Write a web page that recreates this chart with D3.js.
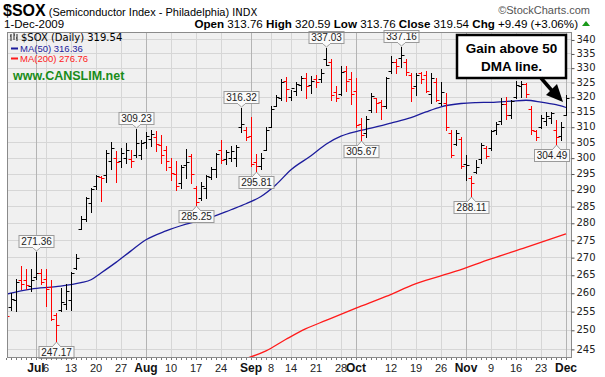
<!DOCTYPE html>
<html>
<head>
<meta charset="utf-8">
<script src="https://cdn.jsdelivr.net/npm/d3@7"></script>
<style>
  body { margin: 0; background: #fff; }
  text { font-family: Arial, "Liberation Sans", sans-serif; }
</style>
</head>
<body>
<div class="container"></div>
<script>
// trading days shown on the chart
const dates = [
  "Jun 23","Jun 24","Jun 25","Jun 26","Jun 29","Jun 30",
  "Jul 1","Jul 2","Jul 6","Jul 7","Jul 8","Jul 9","Jul 10","Jul 13","Jul 14","Jul 15","Jul 16","Jul 17","Jul 20","Jul 21","Jul 22","Jul 23","Jul 24","Jul 27","Jul 28","Jul 29","Jul 30","Jul 31",
  "Aug 3","Aug 4","Aug 5","Aug 6","Aug 7","Aug 10","Aug 11","Aug 12","Aug 13","Aug 14","Aug 17","Aug 18","Aug 19","Aug 20","Aug 21","Aug 24","Aug 25","Aug 26","Aug 27","Aug 28","Aug 31",
  "Sep 1","Sep 2","Sep 3","Sep 4","Sep 8","Sep 9","Sep 10","Sep 11","Sep 14","Sep 15","Sep 16","Sep 17","Sep 18","Sep 21","Sep 22","Sep 23","Sep 24","Sep 25","Sep 28","Sep 29","Sep 30",
  "Oct 1","Oct 2","Oct 5","Oct 6","Oct 7","Oct 8","Oct 9","Oct 12","Oct 13","Oct 14","Oct 15","Oct 16","Oct 19","Oct 20","Oct 21","Oct 22","Oct 23","Oct 26","Oct 27","Oct 28","Oct 29","Oct 30",
  "Nov 2","Nov 3","Nov 4","Nov 5","Nov 6","Nov 9","Nov 10","Nov 11","Nov 12","Nov 13","Nov 16","Nov 17","Nov 18","Nov 19","Nov 20","Nov 23","Nov 24","Nov 25","Nov 27","Nov 30",
  "Dec 1"
]

const opens = [
  256.0, 256.0, 258.0, 263.5, 263.5, 262.0,
  264.5, 265.5, 263.8, 261.5, 254.0, 255.2, 257.0, 258.0, 267.0, 278.3, 281.0, 286.0, 291.0, 294.0, 294.5, 299.0, 300.0, 299.0, 300.0, 299.5, 301.0, 301.0,
  305.0, 306.0, 306.5, 304.0, 302.5, 297.0, 295.0, 292.0, 297.8, 300.5, 290.5, 287.5, 290.5, 294.0, 296.5, 302.5, 299.5, 300.0, 300.0, 310.0, 309.0,
  307.0, 298.5, 297.5, 302.5, 310.0, 317.0, 319.5, 325.5, 320.0, 322.0, 324.0, 326.5, 324.0, 326.0, 326.0, 333.2, 332.0, 321.5, 321.0, 329.0, 326.0,
  322.0, 311.0, 308.0, 315.5, 319.5, 318.3, 317.0, 328.8, 332.0, 333.5, 332.0, 327.5, 323.5, 328.0, 327.5, 321.0, 325.0, 318.0, 318.0, 308.0, 304.5, 306.0,
  298.0, 293.5, 295.6, 299.5, 303.0, 303.0, 309.0, 312.0, 317.5, 314.0, 320.0, 323.5, 324.5, 316.0, 308.5, 310.0, 312.0, 313.0, 309.0, 307.0,
  313.76
]
const highs = [
  257.0, 260.0, 263.8, 267.5, 266.7, 266.7,
  271.36, 266.7, 266.7, 263.5, 254.5, 261.2, 262.5, 265.7, 270.9, 282.1, 287.9, 290.5, 294.6, 294.3, 302.5, 305.0, 302.0, 303.2, 304.6, 302.3, 309.23, 305.7,
  308.4, 309.0, 308.7, 307.2, 303.7, 299.8, 298.8, 297.7, 302.7, 301.1, 291.2, 292.5, 294.6, 297.0, 301.6, 305.7, 302.5, 303.6, 304.1, 316.32, 310.0,
  313.3, 301.1, 301.6, 309.8, 316.9, 320.7, 326.0, 326.6, 322.3, 325.1, 327.0, 328.0, 327.0, 327.4, 329.7, 337.03, 333.0, 323.5, 330.5, 330.5, 328.5,
  326.5, 312.8, 313.6, 321.4, 319.5, 318.9, 326.9, 334.2, 332.9, 337.16, 332.9, 328.0, 328.2, 328.6, 329.0, 328.0, 326.5, 325.0, 321.2, 309.0, 309.0, 306.6,
  300.8, 294.1, 299.3, 304.6, 303.6, 309.0, 311.6, 319.5, 319.8, 319.0, 325.2, 325.5, 324.8, 317.0, 309.0, 313.9, 315.0, 315.0, 312.3, 311.6,
  320.59
]
const lows = [
  253.0, 255.2, 255.0, 261.0, 261.0, 260.6,
  263.8, 262.5, 256.5, 252.5, 247.17, 254.9, 255.6, 255.3, 266.7, 278.1, 280.4, 283.3, 290.2, 286.4, 292.5, 296.5, 292.5, 296.9, 298.3, 297.1, 300.3, 299.5,
  303.2, 303.7, 302.0, 298.3, 296.2, 293.0, 289.8, 290.5, 293.5, 292.0, 285.25, 286.7, 287.4, 293.2, 294.0, 298.3, 298.1, 298.8, 297.4, 308.4, 305.5,
  297.5, 295.81, 296.3, 302.5, 309.8, 316.8, 318.9, 318.7, 318.9, 320.7, 322.3, 319.5, 321.2, 323.4, 325.1, 330.9, 319.0, 318.4, 320.5, 322.0, 317.5,
  309.8, 305.67, 306.5, 315.0, 315.0, 312.4, 316.2, 328.1, 328.3, 330.3, 327.4, 318.4, 320.7, 324.6, 321.5, 318.0, 318.5, 317.3, 309.0, 300.3, 304.1, 296.6,
  293.0, 288.11, 295.1, 298.3, 299.8, 302.5, 307.5, 311.0, 312.6, 313.0, 319.5, 320.0, 320.0, 307.5, 305.7, 309.5, 310.5, 311.3, 304.49, 305.7,
  313.76
]
const closes = [
  253.7, 258.3, 263.1, 262.5, 262.2, 263.4,
  265.5, 263.0, 261.0, 253.0, 251.3, 257.5, 260.5, 265.6, 269.8, 281.0, 287.4, 290.2, 294.1, 293.6, 301.5, 303.0, 298.5, 301.5, 302.5, 299.0, 304.6, 304.8,
  307.0, 307.5, 304.5, 301.0, 299.0, 295.3, 291.2, 297.2, 298.5, 295.0, 286.3, 291.0, 294.2, 296.5, 301.2, 299.2, 301.8, 302.0, 303.5, 311.0, 306.5,
  298.1, 297.3, 300.0, 309.0, 316.0, 320.0, 325.0, 322.5, 322.8, 324.5, 326.5, 323.5, 325.5, 325.0, 328.0, 331.0, 320.5, 319.5, 328.5, 325.5, 321.0,
  310.5, 307.2, 312.5, 320.4, 318.0, 316.8, 326.3, 332.0, 330.5, 334.5, 328.6, 322.8, 327.4, 326.0, 322.0, 326.5, 319.0, 321.5, 309.8, 301.0, 308.0, 297.5,
  297.8, 292.0, 297.0, 304.0, 300.5, 308.5, 311.0, 317.5, 314.0, 318.5, 324.0, 324.5, 321.0, 309.0, 306.5, 313.0, 313.5, 314.5, 306.5, 310.05,
  319.54
]

// moving averages
const ma50Dates  = ["Jun 23","Jun 30","Jul 8","Jul 15","Jul 17","Jul 21","Jul 24","Jul 29","Aug 3","Aug 7","Aug 13","Aug 20","Aug 26","Aug 31","Sep 3","Sep 9","Sep 14","Sep 18","Sep 23","Sep 28","Oct 1","Oct 6","Oct 12","Oct 16","Oct 21","Oct 26","Oct 30","Nov 4","Nov 9","Nov 13","Nov 18","Nov 23","Nov 27","Dec 1"]
const ma50Values = [259.6, 261.0, 261.7, 262.8, 263.6, 265.5, 268.5, 271.8, 275.0, 277.6, 279.6, 281.6, 283.9, 285.7, 287.9, 291.5, 296.2, 300.6, 304.3, 306.9, 308.4, 309.5, 311.2, 313.0, 314.9, 316.6, 317.7, 318.0, 318.1, 318.5, 318.8, 318.2, 317.3, 316.36]
const ma200Dates  = ["Aug 31","Sep 4","Sep 11","Sep 17","Sep 23","Oct 1","Oct 9","Oct 19","Oct 29","Nov 9","Nov 18","Dec 1"]
const ma200Values = [242.5, 244.5, 247.5, 250.3, 252.5, 255.8, 259.0, 262.5, 266.0, 269.5, 272.8, 276.76]

// axis labels
const yTicks = d3.range(245, 341, 5)
const monthTicks = ["Jul 1","Aug 3","Sep 1","Oct 1","Nov 2","Dec 1"]
const monthLabels = ["Jul","Aug","Sep","Oct","Nov","Dec"]
const dayTicks = ["Jul 6","Jul 13","Jul 20","Jul 27","Aug 10","Aug 17","Aug 24","Sep 8","Sep 14","Sep 21","Sep 28","Oct 12","Oct 19","Oct 26","Nov 9","Nov 16","Nov 23"]
const dayLabels = ["6","13","20","27","10","17","24","8","14","21","28","12","19","26","9","16","23"]

// price callouts (date, which end of the bar)
const calloutDates = ["Jul 1","Jul 8","Jul 30","Aug 17","Aug 28","Sep 2","Sep 23","Oct 2","Oct 14","Nov 3","Nov 27"]
const calloutKinds = ["high","low","high","low","high","low","high","low","high","low","low"]

const width = 605
const height = 377
const plot = {left: 7, right: 571, top: 32, bottom: 357}

const svg = d3.select(".container")
    .append("svg")
    .attr("width", width)
    .attr("height", height)
    .style("display", "block")

svg.append("rect").attr("width", width).attr("height", height).attr("fill", "#fff")

const x = d3.scalePoint().domain(dates).range([6, 566])
const y = d3.scaleLog().domain([242.9, 342.7]).range([plot.bottom, plot.top])
const px = d => Math.round(x(d)) + 0.5
const py = v => Math.round(y(v)) + 0.5

// plot background
svg.append("rect")
    .attr("x", plot.left).attr("y", plot.top)
    .attr("width", plot.right - plot.left).attr("height", plot.bottom - plot.top)
    .attr("fill", "#f0f0f0")

svg.append("clipPath").attr("id", "clip")
    .append("rect")
    .attr("x", plot.left).attr("y", plot.top)
    .attr("width", plot.right - plot.left).attr("height", plot.bottom - plot.top)

const grid = svg.append("g")
grid.selectAll(".hgrid")
    .data(yTicks)
    .enter().append("line")
    .attr("x1", plot.left).attr("x2", plot.right)
    .attr("y1", d => py(d)).attr("y2", d => py(d))
    .attr("stroke", "#d6d6d6")
grid.selectAll(".vgrid")
    .data(dayTicks)
    .enter().append("line")
    .attr("x1", d => px(d)).attr("x2", d => px(d))
    .attr("y1", plot.top).attr("y2", plot.bottom)
    .attr("stroke", "#d6d6d6")
grid.selectAll(".mgrid")
    .data(monthTicks)
    .enter().append("line")
    .attr("x1", d => px(d)).attr("x2", d => px(d))
    .attr("y1", plot.top).attr("y2", plot.bottom)
    .attr("stroke", "#b4b4b4")

const chart = svg.append("g").attr("clip-path", "url(#clip)")

// moving averages
const ma = (ds, vs) => ds.map((d, i) => [x(d), y(vs[i])])
const line = d3.line().curve(d3.curveMonotoneX)
chart.append("path")
    .attr("d", line(ma(ma200Dates, ma200Values)))
    .attr("fill", "none").attr("stroke", "#ff1a1a").attr("stroke-width", 1.3)
chart.append("path")
    .attr("d", line(ma(ma50Dates, ma50Values)))
    .attr("fill", "none").attr("stroke", "#1c1c9c").attr("stroke-width", 1.3)

// OHLC bars, red when the close is below the previous close
const bars = chart.selectAll(".bar")
    .data(dates)
    .enter().append("g")
    .attr("stroke", (d, i) => closes[i] < (i ? closes[i - 1] : opens[i]) ? "#ff0000" : "#000")
    .attr("stroke-width", 1)

bars.append("line")
    .attr("x1", d => px(d)).attr("x2", d => px(d))
    .attr("y1", (d, i) => Math.round(y(highs[i])))
    .attr("y2", (d, i) => Math.round(y(lows[i])) + 1)
bars.append("line")
    .attr("x1", d => px(d) - 3).attr("x2", d => px(d))
    .attr("y1", (d, i) => py(opens[i])).attr("y2", (d, i) => py(opens[i]))
bars.append("line")
    .attr("x1", d => px(d)).attr("x2", d => px(d) + 3)
    .attr("y1", (d, i) => py(closes[i])).attr("y2", (d, i) => py(closes[i]))

// callout boxes for swing highs and lows
const fmt = d3.format(".2f")
calloutDates.forEach((d, k) => {
    const i = dates.indexOf(d)
    const isHigh = calloutKinds[k] === "high"
    const v = isHigh ? highs[i] : lows[i]
    const bx = Math.round(x(d))
    const by = Math.round(y(v))
    const bw = 35, bh = 12
    let left = bx - bw / 2
    left = Math.max(plot.left + 1, Math.min(plot.right - bw - 2, left)) + 0.5
    const top = (isHigh ? by - 5 - bh : by + 5) + 0.5
    const tipY = isHigh ? by - 1 : by + 1
    const baseY = isHigh ? top + bh : top
    const g = svg.append("g")
    g.append("rect")
        .attr("x", left).attr("y", top).attr("width", bw).attr("height", bh)
        .attr("fill", "#fafafa").attr("stroke", "#9a9a9a")
    g.append("path")
        .attr("d", `M${bx - 3.5},${baseY} L${bx + 0.5},${tipY} L${bx + 4.5},${baseY}`)
        .attr("fill", "#fafafa").attr("stroke", "#9a9a9a")
    g.append("line")
        .attr("x1", bx - 3).attr("x2", bx + 4).attr("y1", baseY).attr("y2", baseY)
        .attr("stroke", "#fafafa").attr("stroke-width", 1.2)
    g.append("text")
        .attr("x", left + bw / 2).attr("y", top + bh - 2.5)
        .attr("text-anchor", "middle")
        .style("font-size", "10px").style("fill", "#222")
        .text(fmt(v))
})

// plot border
svg.append("rect")
    .attr("x", plot.left + 0.5).attr("y", plot.top + 0.5)
    .attr("width", plot.right - plot.left).attr("height", plot.bottom - plot.top)
    .attr("fill", "none").attr("stroke", "#8a8a8a")

// right price axis
const yAxis = svg.append("g")
    .attr("transform", `translate(${plot.right + 0.5},0)`)
    .call(d3.axisRight(y).tickValues(yTicks).tickSize(3).tickPadding(2).tickFormat(d3.format("d")))
yAxis.select(".domain").remove()
yAxis.selectAll("line").attr("stroke", "#555").attr("transform", "translate(0,0.5)")
yAxis.selectAll("text")
    .style("font-family", "'DejaVu Sans', Verdana, sans-serif")
    .style("font-size", "10px").style("fill", "#222")

// daily ticks on the bottom edge
svg.append("g").selectAll("line")
    .data(dates)
    .enter().append("line")
    .attr("x1", d => px(d)).attr("x2", d => px(d))
    .attr("y1", plot.bottom + 1).attr("y2", plot.bottom + 3)
    .attr("stroke", "#777")

// date labels
svg.append("g").selectAll("text")
    .data(dayTicks)
    .enter().append("text")
    .attr("x", d => x(d)).attr("y", 372)
    .attr("text-anchor", "middle")
    .style("font-size", "11px").style("fill", "#222")
    .text((d, i) => dayLabels[i])
svg.append("g").selectAll("text")
    .data(monthTicks)
    .enter().append("text")
    .attr("x", d => x(d)).attr("y", 372)
    .attr("text-anchor", "middle")
    .style("font-size", "12px").style("font-weight", "bold").style("fill", "#111")
    .text((d, i) => monthLabels[i])

// header
const title = svg.append("text").attr("x", 3).attr("y", 16)
title.append("tspan").text("$SOX").style("font-size", "16px").style("font-weight", "bold")
title.append("tspan").text(" (Semiconductor Index - Philadelphia)").style("font-size", "11px")
title.append("tspan").text(" INDX").style("font-size", "10px").style("font-family", "'DejaVu Sans', sans-serif")

svg.append("text").attr("x", 590).attr("y", 14)
    .attr("text-anchor", "end")
    .style("font-size", "11px").style("fill", "#555")
    .text("©StockCharts.com")

svg.append("text").attr("x", 4).attr("y", 28)
    .style("font-size", "11.5px")
    .text("1-Dec-2009")

const quote = svg.append("text").attr("x", 578).attr("y", 28)
    .attr("text-anchor", "end").style("font-size", "11.6px")
const quoteParts = [["Open", " 313.76 "], ["High", " 320.59 "], ["Low", " 313.76 "], ["Close", " 319.54 "], ["Chg", " +9.49 (+3.06%)"]]
quoteParts.forEach(p => {
    quote.append("tspan").text(p[0]).style("font-weight", "bold")
    quote.append("tspan").text(p[1])
})
svg.append("path").attr("d", "M582,26 L586,21 L590,26 Z").attr("fill", "#1a9a1a")

// legend
const legend = svg.append("g")
legend.append("path")
    .attr("d", "M11,34 v7 M10,36 h1 M14,33 v7 M14,35 h1 M17,34 v7 M16,38 h1")
    .attr("stroke", "#222").attr("fill", "none")
legend.append("text").attr("x", 21).attr("y", 41)
    .style("font-family", "'DejaVu Sans', Verdana, sans-serif").style("font-size", "10px")
    .text("$SOX (Daily) 319.54")
legend.append("line").attr("x1", 11).attr("x2", 18).attr("y1", 48.5).attr("y2", 48.5)
    .attr("stroke", "#1c1c9c").attr("stroke-width", 2)
legend.append("text").attr("x", 20).attr("y", 52)
    .style("font-size", "9.5px").style("fill", "#1c1c9c")
    .text("MA(50) 316.36")
legend.append("line").attr("x1", 11).attr("x2", 18).attr("y1", 58.5).attr("y2", 58.5)
    .attr("stroke", "#ff1a1a").attr("stroke-width", 2)
legend.append("text").attr("x", 20).attr("y", 62)
    .style("font-size", "9.5px").style("fill", "#ff1a1a")
    .text("MA(200) 276.76")
legend.append("text").attr("x", 13).attr("y", 80)
    .style("font-size", "12.5px").style("font-weight", "bold").style("fill", "#1a8c1a")
    .text("www.CANSLIM.net")

// annotation
const note = svg.append("g")
note.append("rect")
    .attr("x", 457).attr("y", 35).attr("width", 109).attr("height", 43)
    .attr("fill", "#fff").attr("stroke", "#000").attr("stroke-width", 2.5)
note.append("text").attr("x", 511.5).attr("y", 53)
    .attr("text-anchor", "middle")
    .style("font-size", "13.5px").style("font-weight", "bold")
    .text("Gain above 50")
note.append("text").attr("x", 511.5).attr("y", 71)
    .attr("text-anchor", "middle")
    .style("font-size", "13.5px").style("font-weight", "bold")
    .text("DMA line.")
note.append("line")
    .attr("x1", 541).attr("y1", 78).attr("x2", 554).attr("y2", 93)
    .attr("stroke", "#000").attr("stroke-width", 3.5)
note.append("path")
    .attr("d", "M563,102 L546,95 L557,84 Z")
    .attr("fill", "#000")
</script>
</body>
</html>
